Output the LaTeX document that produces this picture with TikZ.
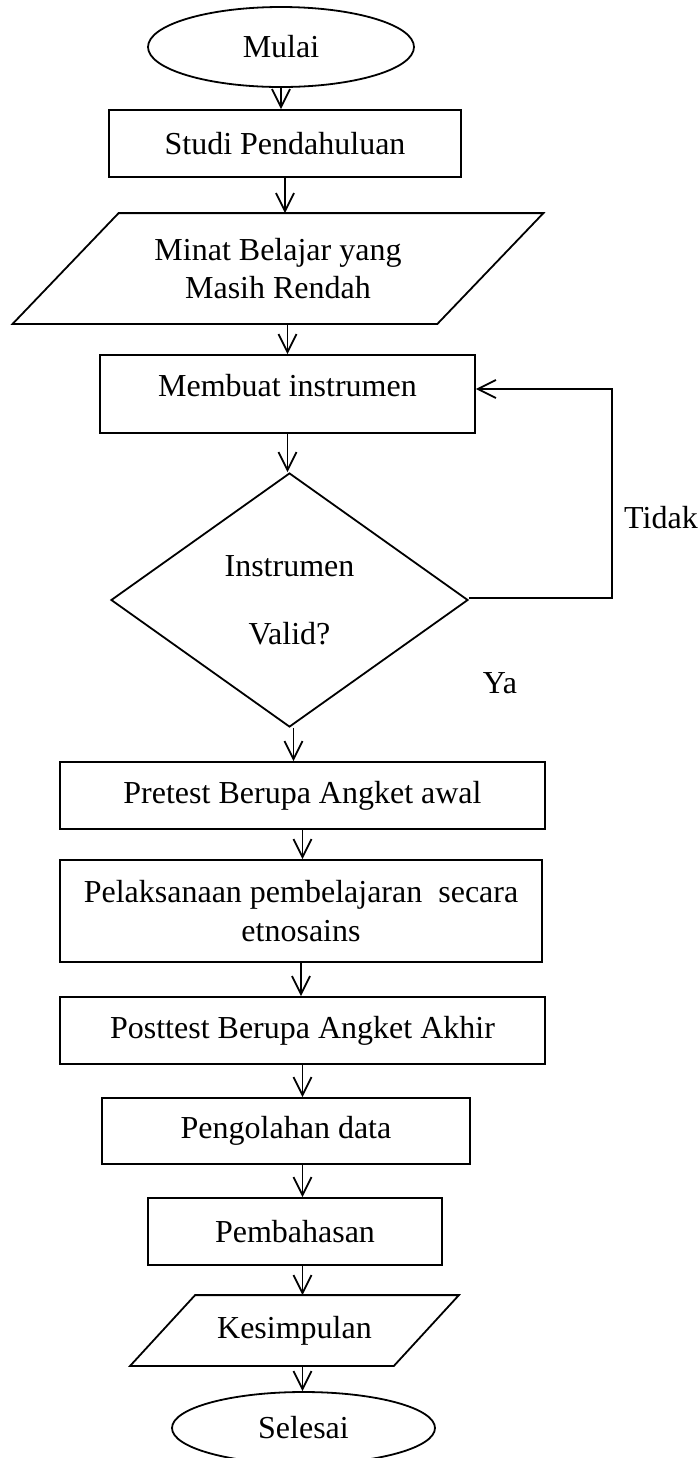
\documentclass[tikz,border=0pt]{standalone}
\usepackage{fontspec}
\setmainfont{Liberation Serif}
\usetikzlibrary{shapes.geometric,arrows.meta}

\begin{document}
\begin{tikzpicture}[->,
		>={Straight Barb[length=9pt,width=9pt]},
		x=0.5pt, y=-0.5pt,
		line width=0.9pt,
		font=\fontsize{16}{19.2}\selectfont,
		termnode/.style={ellipse,draw,inner sep=0pt},
		procnode/.style={rectangle,draw,inner sep=0pt,align=center},
		datanode/.style={rectangle,inner sep=0pt,align=center},
		decnode/.style={diamond,draw,inner sep=0pt,align=center,aspect=1.4},
		labelnode/.style={inner sep=0pt}]
		
		\useasboundingbox (0,0) rectangle (699,1458);
		
		\node[termnode,minimum width=133pt,minimum height=40pt] (mulai) at (281,47) {Mulai};
		\node[procnode,minimum width=176pt,minimum height=33.5pt] (studi) at (285,143.5) {Studi Pendahuluan};
		\node[datanode,minimum width=211.5pt,minimum height=54.5pt] (minat) at (278,268.5) {Minat Belajar yang\\Masih Rendah};
		\node[procnode,minimum width=187.5pt,minimum height=39pt,text depth=9pt] (membuat) at (287.5,394) {Membuat instrumen};
		\node[decnode,minimum width=178.5pt,minimum height=127pt] (valid) at (289.5,600) {Instrumen\\[15pt]Valid?};
		\coordinate (loop) at (612,598);
		\node[labelnode] (tidak) at (661,518) {Tidak};
		\node[labelnode] (ya) at (500,683) {Ya};
		
		\node[procnode,minimum width=242.5pt,minimum height=33.5pt] (pretest) at (302.5,795.5) {Pretest Berupa Angket awal};
		\node[procnode,minimum width=241pt,minimum height=51pt] (pelaksanaan) at (301,911) {Pelaksanaan pembelajaran\ \ secara\\etnosains};
		\node[procnode,minimum width=242.5pt,minimum height=33.5pt] (posttest) at (302.5,1030.5) {Posttest Berupa Angket Akhir};
		\node[procnode,minimum width=184pt,minimum height=33pt] (pengolahan) at (286,1131) {Pengolahan data};
		\node[procnode,minimum width=147pt,minimum height=33.5pt] (pembahasan) at (295,1231.5) {Pembahasan};
		\node[datanode,minimum width=131pt,minimum height=34.5pt] (kesimpulan) at (294.5,1330.5) {Kesimpulan};
		\node[termnode,minimum width=131.5pt,minimum height=36pt] (selesai) at (303.5,1428) {Selesai};
		
		% parallelograms round the data nodes
		\draw[-] ([xshift=26.5pt]minat.north west) -- ([xshift=26.5pt]minat.north east)
			-- ([xshift=-26.5pt]minat.south east) -- ([xshift=-26.5pt]minat.south west) -- cycle;
		\draw[-] ([xshift=16.25pt]kesimpulan.north west) -- ([xshift=16.25pt]kesimpulan.north east)
			-- ([xshift=-16.25pt]kesimpulan.south east) -- ([xshift=-16.25pt]kesimpulan.south west) -- cycle;
		
		\draw (mulai.south) to (mulai.south |- studi.north);
		\draw (studi.south) to (studi.south |- minat.north);
		\draw (minat.south -| membuat.north) to (membuat.north);
		\draw (membuat.south) to (membuat.south |- valid.north);
		\draw ([xshift=2pt]valid.south) to ([xshift=2pt]valid.south |- pretest.north);
		\draw ([yshift=1pt]valid.east) -- (loop) |- ([yshift=2.5pt]membuat.east);
		
		\draw (pretest.south) to (pretest.south |- pelaksanaan.north);
		\draw (pelaksanaan.south) to (pelaksanaan.south |- posttest.north);
		\draw (posttest.south) to (posttest.south |- pengolahan.north);
		\draw (pengolahan.south -| posttest.south) to (posttest.south |- pembahasan.north);
		\draw (pembahasan.south -| posttest.south) to (posttest.south |- kesimpulan.north);
		\draw (kesimpulan.south -| posttest.south) to (posttest.south |- selesai.north);
		
	\end{tikzpicture}
\end{document}
